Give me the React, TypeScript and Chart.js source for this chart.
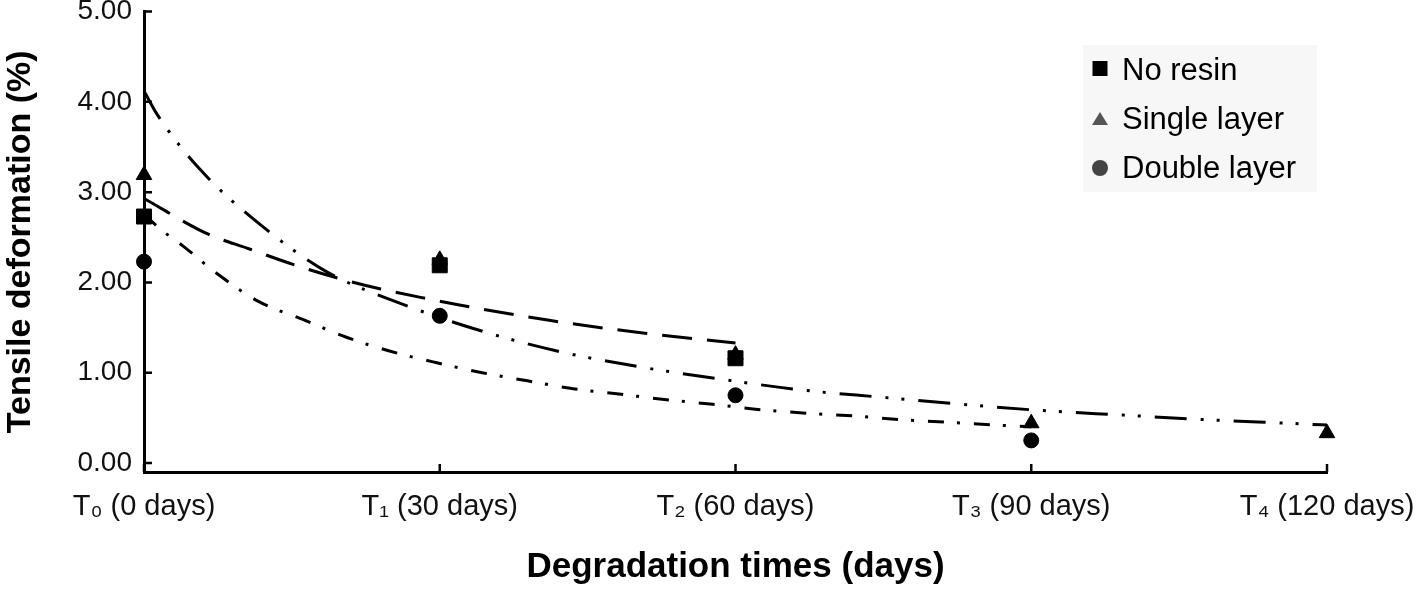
import React, { useEffect, useRef } from "react";
import { Chart, registerables } from "chart.js";

Chart.register(...registerables);

// ---- data ----
const xTickDays = [0, 30, 60, 90, 120];
const xTickLabels = ["T₀ (0 days)", "T₁ (30 days)", "T₂ (60 days)", "T₃ (90 days)", "T₄ (120 days)"];
const yTickValues = [0, 1, 2, 3, 4, 5];

const seriesNames = ["No resin", "Single layer", "Double layer"];

const noResinDays = [0, 30, 60];
const noResinValues = [2.73, 2.19, 1.16];
const singleLayerDays = [0, 30, 60, 90, 120];
const singleLayerValues = [3.19, 2.25, 1.2, 0.44, 0.33];
const doubleLayerDays = [0, 30, 60, 90];
const doubleLayerValues = [2.23, 1.63, 0.75, 0.25];

// trend lines
const noResinTrendDays = [0, 6.4, 10.7, 15.1, 19.9, 23.9, 28.7, 32, 41.1, 50.6, 60];
const noResinTrendValues = [2.93, 2.54, 2.37, 2.2, 2.04, 1.93, 1.82, 1.75, 1.58, 1.44, 1.33];

const singleTrendDays = [0, 1.4, 5.7, 11.8, 18.5, 26.2, 34, 41.9, 50, 58.4, 66.6, 74.6, 83, 91.2, 99.4, 107.6, 116, 120];
const singleTrendValues = [4.12, 3.85, 3.25, 2.64, 2.12, 1.76, 1.47, 1.24, 1.07, 0.93, 0.81, 0.73, 0.65, 0.58, 0.53, 0.48, 0.44, 0.42];

const doubleTrendDays = [0, 1.9, 4, 7.5, 11.6, 16.1, 20.6, 24.9, 29.7, 34.3, 38.9, 43.7, 48.4, 53, 57.7, 62.6, 67.4, 72.1, 76.8, 81.6, 86.5, 90];
const doubleTrendValues = [2.75, 2.57, 2.4, 2.09, 1.79, 1.59, 1.39, 1.24, 1.11, 1.0, 0.91, 0.82, 0.76, 0.7, 0.65, 0.59, 0.55, 0.52, 0.48, 0.45, 0.42, 0.4];

const FONT = "'Liberation Sans', Arial, Helvetica, sans-serif";

const pairs = (xs: number[], ys: number[]) => xs.map((x, i) => ({ x, y: ys[i] }));

const inwardTicks = {
  id: "inwardTicks",
  beforeDatasetsDraw(chart: any) {
    const { ctx, chartArea, scales } = chart;
    ctx.save();
    ctx.strokeStyle = "#000";
    ctx.lineWidth = 2.5;
    ctx.beginPath();
    yTickValues.forEach((v) => {
      const y = scales.y.getPixelForValue(v);
      ctx.moveTo(chartArea.left, y);
      ctx.lineTo(chartArea.left + 8, y);
    });
    xTickDays.forEach((d) => {
      const x = scales.x.getPixelForValue(d);
      ctx.moveTo(x, chartArea.bottom);
      ctx.lineTo(x, chartArea.bottom - 8);
    });
    ctx.stroke();
    ctx.restore();
  },
};

const legendColors = ["#000000", "#555555", "#444444"];
const legendStyles = ["rect", "triangle", "circle"];

const customLegend = {
  id: "customLegend",
  afterDraw(chart: any) {
    const { ctx } = chart;
    ctx.save();
    ctx.fillStyle = "#f7f7f7";
    ctx.fillRect(1083, 45, 234, 147);
    seriesNames.forEach((name, i) => {
      const cy = 70 + 49 * i;
      const cx = 1100;
      ctx.fillStyle = legendColors[i];
      ctx.beginPath();
      if (legendStyles[i] === "rect") {
        ctx.rect(cx - 7.5, cy - 9, 15, 15);
      } else if (legendStyles[i] === "triangle") {
        ctx.moveTo(cx, cy - 7);
        ctx.lineTo(cx + 8, cy + 6);
        ctx.lineTo(cx - 8, cy + 6);
        ctx.closePath();
      } else {
        ctx.arc(cx, cy, 8, 0, Math.PI * 2);
      }
      ctx.fill();
      ctx.fillStyle = "#000";
      ctx.font = `31px ${FONT}`;
      ctx.textBaseline = "middle";
      ctx.textAlign = "left";
      ctx.fillText(name, 1122, cy + 1);
    });
    ctx.restore();
  },
};

export default function App() {
  const ref = useRef<HTMLCanvasElement>(null);

  useEffect(() => {
    if (!ref.current) return;
    const markerBase = {
      showLine: false,
      borderWidth: 0,
      pointBorderWidth: 1,
      clip: false as any,
    };
    const trendBase = {
      showLine: true,
      pointRadius: 0,
      borderColor: "#000",
      borderWidth: 3,
      borderCapStyle: "butt" as const,
      cubicInterpolationMode: "monotone" as const,
      fill: false,
      clip: false as any,
    };
    const chart = new Chart(ref.current, {
      type: "scatter",
      data: {
        datasets: [
          {
            ...markerBase,
            label: seriesNames[0],
            data: pairs(noResinDays, noResinValues),
            pointStyle: "rect",
            pointRadius: 10.6,
            backgroundColor: "#000",
            pointBackgroundColor: "#000",
            pointBorderColor: "#000",
          },
          {
            ...markerBase,
            label: seriesNames[1],
            data: pairs(singleLayerDays, singleLayerValues),
            pointStyle: "triangle",
            pointRadius: 9,
            backgroundColor: "#000",
            pointBackgroundColor: "#000",
            pointBorderColor: "#000",
          },
          {
            ...markerBase,
            label: seriesNames[2],
            data: pairs(doubleLayerDays, doubleLayerValues),
            pointStyle: "circle",
            pointRadius: 7.5,
            backgroundColor: "#000",
            pointBackgroundColor: "#000",
            pointBorderColor: "#000",
          },
          {
            ...trendBase,
            label: "No resin trend",
            data: pairs(noResinTrendDays, noResinTrendValues),
            borderDash: [30, 15],
          },
          {
            ...trendBase,
            label: "Single layer trend",
            data: pairs(singleTrendDays, singleTrendValues),
            borderDash: [32, 14, 3, 13, 3, 14],
          },
          {
            ...trendBase,
            label: "Double layer trend",
            data: pairs(doubleTrendDays, doubleTrendValues),
            borderDash: [16, 13, 3, 14],
          },
        ] as any,
      },
      options: {
        animation: false,
        responsive: false,
        events: [],
        layout: { padding: { top: 8, right: 90, left: 0, bottom: 0 } },
        plugins: {
          legend: { display: false },
          tooltip: { enabled: false },
        },
        scales: {
          x: {
            type: "linear",
            min: 0,
            max: 120,
            grid: { display: false, drawTicks: false },
            border: { display: true, color: "#000", width: 3 },
            afterBuildTicks: (scale: any) => {
              scale.ticks = xTickDays.map((v) => ({ value: v }));
            },
            afterFit: (scale: any) => {
              scale.height = 126;
              scale.paddingLeft = 0;
              scale.paddingRight = 0;
            },
            ticks: {
              autoSkip: false,
              maxRotation: 0,
              padding: 18,
              color: "#111",
              font: { family: FONT, size: 29 },
              callback: (_v: any, i: number) => xTickLabels[i],
            },
            title: {
              display: true,
              text: "Degradation times (days)",
              color: "#000",
              font: { family: FONT, size: 35, weight: "bold" },
              padding: { top: 0, bottom: 10 },
            },
          },
          y: {
            type: "linear",
            min: -0.1,
            max: 5,
            grid: { display: false, drawTicks: false },
            border: { display: true, color: "#000", width: 3 },
            afterBuildTicks: (scale: any) => {
              scale.ticks = yTickValues.map((v) => ({ value: v }));
            },
            afterFit: (scale: any) => {
              scale.width = 144;
              scale.paddingTop = 0;
              scale.paddingBottom = 0;
            },
            ticks: {
              padding: 12,
              color: "#111",
              font: { family: FONT, size: 28 },
              callback: (v: any) => Number(v).toFixed(2),
            },
            title: {
              display: true,
              text: "Tensile deformation (%)",
              color: "#000",
              font: { family: FONT, size: 34, weight: "bold" },
              padding: { top: 0, bottom: 0 },
            },
          },
        },
      },
      plugins: [inwardTicks, customLegend],
    });
    return () => chart.destroy();
  }, []);

  return (
    <div style={{ position: "fixed", left: 0, top: 0, width: 1417, height: 598, background: "#fff" }}>
      <canvas ref={ref} width={1417} height={598} style={{ display: "block", width: 1417, height: 598 }} />
    </div>
  );
}
